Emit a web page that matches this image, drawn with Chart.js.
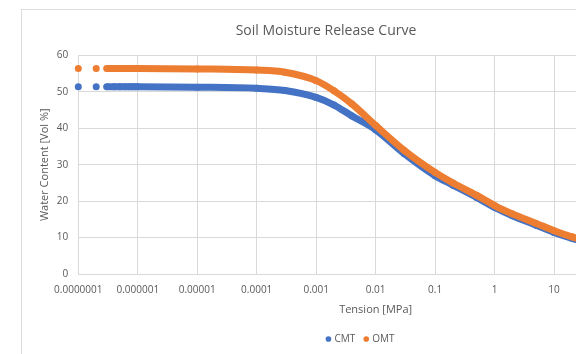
<!DOCTYPE html>
<html>
<head>
<meta charset="utf-8">
<script src="https://cdn.jsdelivr.net/npm/chart.js@4/dist/chart.umd.min.js"></script>
<style>
  html, body { margin: 0; padding: 0; background: #ffffff; overflow: hidden; width: 576px; height: 354px; }
  #frame { position: absolute; left: 21px; top: 9px; width: 800px; height: 400px; border: 1px solid #dcdcdc; box-sizing: border-box; }
  #c { position: absolute; left: 0; top: 0; }
</style>
</head>
<body>
<div id="frame"></div>
<canvas id="c" width="683" height="354"></canvas>
<script>
// ---- data ----
const CHART_TITLE = 'Soil Moisture Release Curve';
const X_TITLE = 'Tension [MPa]';
const Y_TITLE = 'Water Content [Vol %]';
const SERIES_NAMES = ['CMT', 'OMT'];
const TENSION = [1e-7, 2e-7, 3e-7, 4e-7, 5e-7, 6e-7, 7e-7, 8e-7, 9e-7, 1e-6,
                 1e-5, 1e-4, 3e-4, 1e-3, 2e-3, 4e-3, 1e-2, 3e-2, 0.1, 0.2,
                 0.5, 1, 2, 5, 10, 20, 50, 100, 1000];
const CMT = [51.4, 51.4, 51.4, 51.4, 51.4, 51.4, 51.4, 51.4, 51.4, 51.4,
             51.3, 51.0, 50.4, 48.5, 46.4, 43.4, 39.6, 33.1, 27.0, 24.4,
             21.0, 18.3, 16.0, 13.4, 11.4, 9.8, 8.0, 7.0, 4.2];
const OMT = [56.4, 56.4, 56.4, 56.4, 56.4, 56.4, 56.4, 56.4, 56.4, 56.4,
             56.3, 56.0, 55.4, 53.1, 50.3, 46.7, 40.8, 34.0, 27.9, 25.0,
             21.6, 18.8, 16.5, 13.9, 11.9, 10.2, 8.4, 7.3, 4.5];
const X_TICKS = [1e-7, 1e-6, 1e-5, 1e-4, 1e-3, 1e-2, 1e-1, 1, 10, 100, 1000];
const X_TICK_LABELS = ['0.0000001', '0.000001', '0.00001', '0.0001', '0.001', '0.01', '0.1', '1', '10', '100', '1000'];
const Y_TICKS = [0, 10, 20, 30, 40, 50, 60];

// ---- styling ----
const BLUE = '#4472C4';
const ORANGE = '#ED7D31';
const TEXT = '#595959';
const GRID = '#d9d9d9';
const FONT = "'Open Sans', 'DejaVu Sans', sans-serif";

function pts(ys) { return TENSION.map((x, i) => ({ x: x, y: ys[i] })); }

function makeSet(label, ys, color, order) {
  return {
    label: label,
    data: pts(ys),
    order: order,
    showLine: true,
    borderColor: color,
    backgroundColor: color,
    pointBackgroundColor: color,
    pointBorderColor: color,
    pointBorderWidth: 0,
    pointRadius: 3.5,
    pointHoverRadius: 3.5,
    borderWidth: 7,
    cubicInterpolationMode: 'monotone',
    clip: false,
    segment: {
      borderColor: ctx => ctx.p0DataIndex < 2 ? 'rgba(0,0,0,0)' : color
    }
  };
}

const titlePlugin = {
  id: 'sheetTitle',
  afterDraw(chart) {
    const ctx = chart.ctx;
    ctx.save();
    ctx.font = '14px ' + FONT;
    ctx.fillStyle = TEXT;
    ctx.textAlign = 'center';
    ctx.textBaseline = 'alphabetic';
    ctx.fillText(CHART_TITLE, 326, 35);
    ctx.restore();
  }
};

new Chart(document.getElementById('c'), {
  type: 'scatter',
  data: {
    datasets: [
      makeSet(SERIES_NAMES[0], CMT, BLUE, 1),
      makeSet(SERIES_NAMES[1], OMT, ORANGE, 0)
    ]
  },
  plugins: [titlePlugin],
  options: {
    responsive: false,
    animation: false,
    devicePixelRatio: 1,
    layout: { padding: { left: 49, right: 10, top: 55.5, bottom: 0 } },
    plugins: {
      title: { display: false },
      tooltip: { enabled: false },
      legend: {
        display: true,
        position: 'bottom',
        labels: {
          usePointStyle: true,
          pointStyle: 'circle',
          boxWidth: 2,
          boxHeight: 4,
          padding: 10,
          color: TEXT,
          font: { family: FONT, size: 10 },
          sort: (a, b) => a.datasetIndex - b.datasetIndex
        }
      }
    },
    scales: {
      x: {
        type: 'logarithmic',
        min: X_TICKS[0],
        max: X_TICKS[X_TICKS.length - 1],
        afterBuildTicks: s => { s.ticks = X_TICKS.map(v => ({ value: v })); },
        afterFit: s => { s.height = 50; s.paddingLeft = 0; s.paddingRight = 0; },
        ticks: {
          autoSkip: false,
          maxRotation: 0,
          minRotation: 0,
          padding: 10.5,
          color: TEXT,
          font: { family: FONT, size: 10 },
          callback: (v) => {
            const i = X_TICKS.findIndex(t => Math.abs(Math.log10(t) - Math.log10(v)) < 1e-6);
            return i >= 0 ? X_TICK_LABELS[i] : '';
          }
        },
        grid: { color: GRID, lineWidth: 1, drawTicks: false },
        border: { display: true, color: GRID, width: 1 },
        title: {
          display: true,
          text: X_TITLE,
          color: TEXT,
          font: { family: FONT, size: 11 },
          padding: { top: 0, bottom: 8 }
        }
      },
      y: {
        min: 0,
        max: 60,
        afterBuildTicks: s => { s.ticks = Y_TICKS.map(v => ({ value: v })); },
        afterFit: s => { s.width = 29.3; s.paddingTop = 0; s.paddingBottom = 0; },
        ticks: {
          padding: 10,
          color: TEXT,
          font: { family: FONT, size: 10 }
        },
        grid: { color: GRID, lineWidth: 1, drawTicks: false },
        border: { display: false },
        title: {
          display: true,
          text: Y_TITLE,
          color: TEXT,
          font: { family: FONT, size: 11 },
          padding: { top: -10.6, bottom: 0 }
        }
      }
    }
  }
});
</script>
</body>
</html>
